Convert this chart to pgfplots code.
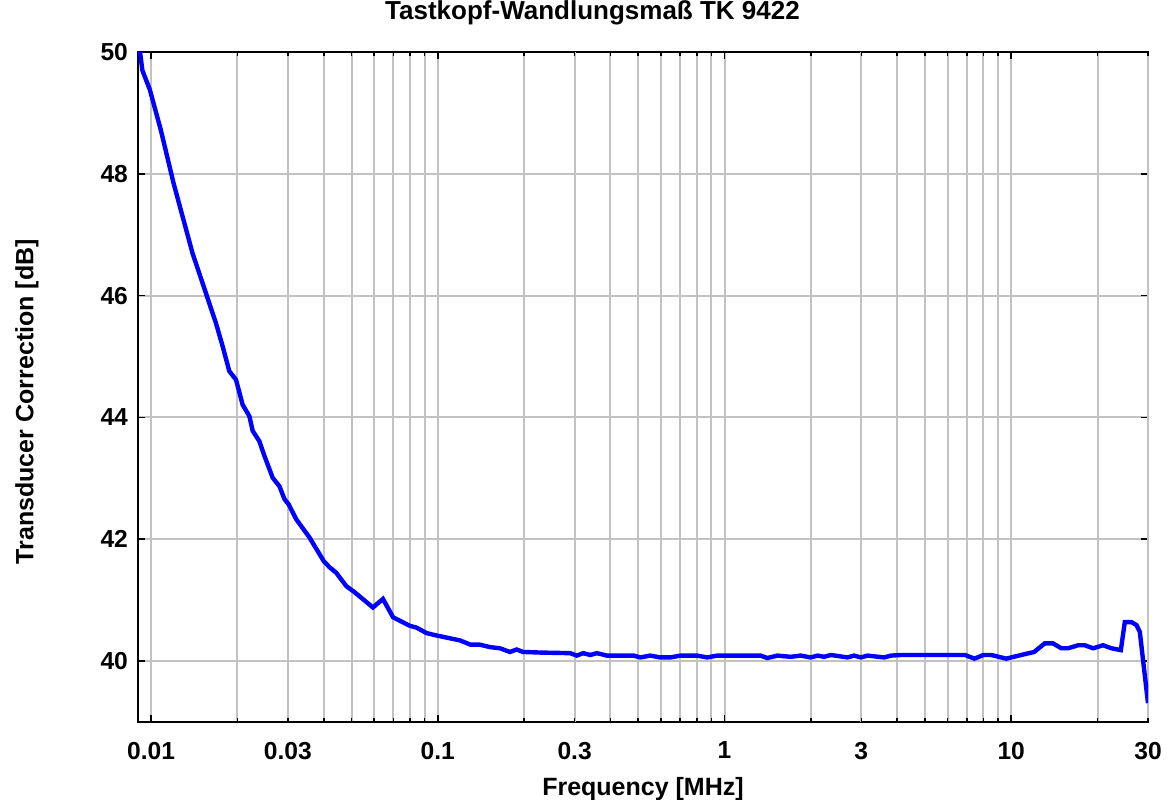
\documentclass[border=0pt]{standalone}
\usepackage{pgfplots}
\pgfplotsset{compat=1.18}
\usepackage{fontspec}
\setmainfont{Liberation Sans}
\begin{document}
\begin{tikzpicture}
\begin{axis}[
    scale only axis,
    width=505pt, height=335pt,
    xmode=log,
    xmin=0.009, xmax=30,
    ymin=39, ymax=50,
    xtick={0.01,0.1,1,10},
    xticklabels={0.01,0.1,1,10},
    extra x ticks={0.03,0.3,3,30},
    extra x tick labels={0.03,0.3,3,30},
    extra x tick style={major tick length=2pt, grid=major},
    minor xtick={0.02,0.04,0.05,0.06,0.07,0.08,0.09,
                 0.2,0.4,0.5,0.6,0.7,0.8,0.9,
                 2,4,5,6,7,8,9,20},
    ytick={40,42,44,46,48,50},
    grid=both,
    major grid style={gray!48, line width=1pt},
    minor grid style={gray!48, line width=1pt},
    tick align=inside,
    major tick length=3.5pt,
    minor tick length=2pt,
    tick style={black, line width=0.8pt},
    axis line style={line width=1pt},
    /pgf/number format/assume math mode=true,
    ticklabel style={font=\fontsize{12.3}{14}\selectfont\bfseries},
    xticklabel style={yshift=-6.5pt},
    yticklabel style={xshift=-1.5pt},
    title={Tastkopf-Wandlungsmaß TK 9422},
    title style={font=\fontsize{13}{15}\selectfont\bfseries,
                 at={(axis description cs:0.45,1.031)}, anchor=base},
    xlabel={Frequency [MHz]},
    xlabel style={font=\fontsize{12.5}{15}\selectfont\bfseries,
                  at={(axis description cs:0.5,-0.110)}, anchor=base},
    ylabel={Transducer Correction [dB]},
    ylabel style={font=\fontsize{12.5}{15}\selectfont\bfseries,
                  at={(axis description cs:-0.110,0.478)}, anchor=center},
]
% measured probe correction, blue
\addplot[color=blue, line width=2.2pt, no marks] coordinates {
  (0.00915,50.00) (0.00932,49.70) (0.00990,49.38) (0.01081,48.72)
  (0.01197,47.85) (0.01394,46.70) (0.01683,45.55) (0.01776,45.17)
  (0.01874,44.76) (0.01978,44.62) (0.02085,44.21) (0.02202,44.02)
  (0.02261,43.78) (0.02385,43.61) (0.02484,43.37) (0.02655,43.01)
  (0.02803,42.87) (0.02918,42.66) (0.03021,42.57) (0.03206,42.33)
  (0.03567,42.03) (0.04002,41.64) (0.04193,41.54) (0.04423,41.45)
  (0.04796,41.23) (0.05127,41.13) (0.05939,40.88) (0.06437,41.02)
  (0.06979,40.72) (0.07980,40.58) (0.08424,40.55) (0.09129,40.46)
  (0.09897,40.42) (0.1194,40.34) (0.1300,40.27) (0.1400,40.27)
  (0.1520,40.23) (0.1647,40.21) (0.1785,40.15) (0.1884,40.19)
  (0.1982,40.15) (0.2273,40.14) (0.2893,40.13) (0.3055,40.09)
  (0.3214,40.13) (0.3400,40.10) (0.3589,40.13) (0.3889,40.09)
  (0.4819,40.09) (0.5085,40.06) (0.5511,40.09) (0.5973,40.06)
  (0.6475,40.06) (0.7018,40.09) (0.8025,40.09) (0.8698,40.06)
  (0.9430,40.09) (1.336,40.09) (1.410,40.05) (1.529,40.09)
  (1.701,40.07) (1.844,40.09) (1.999,40.06) (2.110,40.09)
  (2.225,40.07) (2.348,40.10) (2.685,40.06) (2.832,40.09)
  (2.989,40.06) (3.155,40.09) (3.606,40.06) (3.805,40.09)
  (4.125,40.10) (5.27,40.10) (6.10,40.10) (6.90,40.10)
  (7.441,40.04) (8.000,40.10) (8.514,40.10) (9.605,40.04)
  (10.84,40.10) (12.03,40.15) (13.08,40.29) (13.99,40.29)
  (14.96,40.21) (15.79,40.21) (17.11,40.26) (18.05,40.26)
  (19.31,40.21) (20.92,40.26) (22.37,40.21) (24.12,40.18)
  (24.90,40.64) (26.28,40.64) (27.36,40.59) (28.09,40.48)
  (30.00,39.31)
};
\end{axis}
\pgfresetboundingbox
\path ([xshift=-69pt,yshift=26pt]current axis.north west)
      rectangle ([xshift=10pt,yshift=-39pt]current axis.south east);
\end{tikzpicture}
\end{document}
